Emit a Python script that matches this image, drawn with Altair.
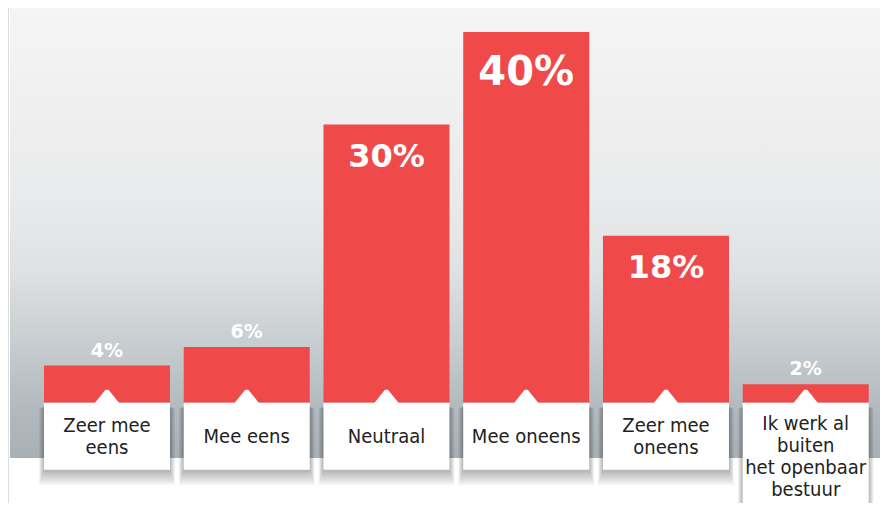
import altair as alt
import pandas as pd

categories = ["Zeer mee\neens", "Mee eens", "Neutraal", "Mee oneens", "Zeer mee\noneens",
              "Ik werk al\nbuiten\nhet openbaar\nbestuur"]
values = [4, 6, 30, 40, 18, 2]
value_labels = ["4%", "6%", "30%", "40%", "18%", "2%"]

RED = "#EF494A"
PX = 370.8 / 40.0          # pixels per percent point
LH = 22.0                  # line height of the category labels
BOX = 67.0                 # box depth for up to two lines

rows = []
for i, (c, v, l) in enumerate(zip(categories, values, value_labels)):
    n = c.count("\n") + 1
    depth = BOX + max(0, n - 2) * LH
    first = max(27.5, 40.3 - (n - 1) * LH / 2)
    if v >= 10:
        fs = 40 if v >= 35 else 32
        ly = v - (1.33 * fs) / PX
    else:
        fs = 19
        ly = v + 9 / PX
    rows.append(dict(cat=c, order=i, val=v, lab=l, fs=fs, ly=ly, zero=0.0,
                     bot=-depth / PX, ty=-first / PX))
df = pd.DataFrame(rows)

xs = alt.X("cat:N", sort=categories,
           scale=alt.Scale(range=[29.1, 867.6], paddingInner=0.0983, paddingOuter=0.0492),
           axis=None)
ys = alt.Scale(domain=[0, 40], range=[394.7, 23.9], nice=False, zero=False)

base = alt.Chart(df)

bg = base.mark_rect(
    fill=alt.Gradient(
        gradient="linear", x1=0, y1=0, x2=0, y2=1,
        stops=[alt.GradientStop(offset=0, color="#f5f5f5"),
               alt.GradientStop(offset=0.42, color="#e9eaeb"),
               alt.GradientStop(offset=0.58, color="#dfe2e4"),
               alt.GradientStop(offset=0.72, color="#cbd0d3"),
               alt.GradientStop(offset=0.88, color="#b3bbbf"),
               alt.GradientStop(offset=1, color="#a8b0b5")]),
    strokeWidth=0
).encode(x=alt.value(2), x2=alt.value(872), y=alt.value(-1), y2=alt.value(450))

bars = base.mark_bar(width=126, color=RED).encode(
    x=xs, y=alt.Y("val:Q", scale=ys, axis=None), y2="zero:Q")

shadows = []
for k in range(1, 8):
    shadows.append(base.mark_bar(width=126 + 1.4 * k, color="#000000", opacity=0.045,
                                 yOffset=3 + 0.4 * k, y2Offset=2.2 * k).encode(
        x=xs, y=alt.Y("zero:Q", scale=ys, axis=None), y2="bot:Q"))

boxes = base.mark_bar(width=126, color="#ffffff").encode(
    x=xs, y=alt.Y("zero:Q", scale=ys, axis=None), y2="bot:Q")

notch = base.mark_point(shape="M-1,0.1 L-0.12,-1 L0.12,-1 L1,0.1 Z", size=676,
                        filled=True, color="#ffffff", strokeWidth=0, opacity=1).encode(
    x=xs, y=alt.Y("zero:Q", scale=ys, axis=None))

cat_text = base.mark_text(font="DejaVu Sans Condensed",
                          fontSize=20, lineBreak="\n", lineHeight=LH, color="#222222",
                          align="center", baseline="alphabetic").encode(
    x=xs, y=alt.Y("ty:Q", scale=ys, axis=None), text="cat:N")

val_text = base.mark_text(font="DejaVu Sans", fontWeight="bold", color="#ffffff",
                          align="center", baseline="alphabetic").encode(
    x=xs, y=alt.Y("ly:Q", scale=ys, axis=None), text="lab:N", size=alt.Size("fs:Q", scale=None))

chart = alt.layer(bg, bars, *shadows, boxes, notch, cat_text, val_text).properties(
    width=872, height=495, autosize=alt.AutoSizeParams(type="none"), padding=0
).configure_view(strokeWidth=0, stroke="transparent").configure(background="#ffffff")

chart.save("out.html", embed_options={"renderer": "svg", "actions": False})
